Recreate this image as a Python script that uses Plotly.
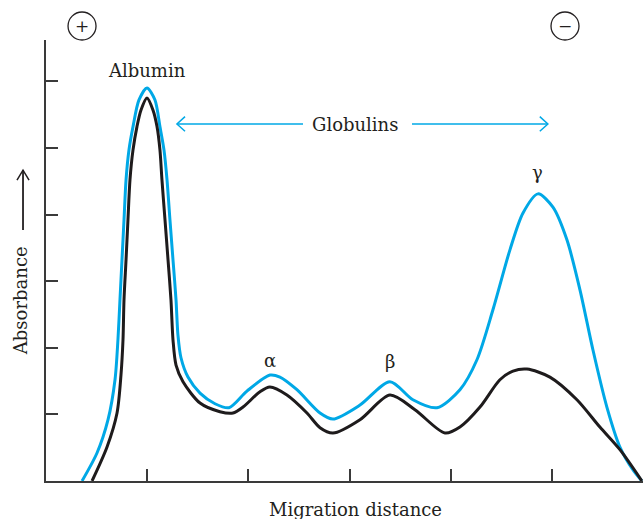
import plotly.graph_objects as go

# Serum protein electrophoresis densitometry trace
# x = migration distance (tick units), y = absorbance (tick units)
blue_x = [0.356, 0.504, 0.613, 0.682, 0.711, 0.731, 0.751, 0.771, 0.791, 0.820, 0.860, 0.919,
          0.998, 1.077, 1.126, 1.166, 1.196, 1.225, 1.255, 1.285, 1.304, 1.334, 1.403, 1.522,
          1.670, 1.808, 1.986, 2.213, 2.312, 2.480, 2.708, 2.836, 3.103, 3.399, 3.626, 3.864,
          4.091, 4.259, 4.417, 4.585, 4.713, 4.862, 5.010, 5.148, 5.277, 5.405, 5.543, 5.672,
          5.800, 5.889]
blue_y = [0.00, 0.42, 0.92, 1.52, 2.12, 2.72, 3.32, 3.92, 4.52, 4.97, 5.32, 5.72,
          5.90, 5.72, 5.32, 4.97, 4.52, 3.92, 3.32, 2.72, 2.19, 1.85, 1.56, 1.32,
          1.16, 1.10, 1.35, 1.59, 1.56, 1.37, 1.02, 0.93, 1.14, 1.49, 1.22, 1.10,
          1.37, 1.82, 2.57, 3.47, 4.02, 4.31, 4.11, 3.62, 2.87, 1.97, 1.11, 0.51,
          0.17, 0.00]

black_x = [0.455, 0.603, 0.702, 0.741, 0.761, 0.771, 0.791, 0.810, 0.830, 0.860, 0.899, 0.939,
           0.998, 1.057, 1.097, 1.126, 1.146, 1.176, 1.206, 1.235, 1.255, 1.285, 1.354, 1.522,
           1.719, 1.848, 1.947, 2.115, 2.213, 2.381, 2.579, 2.708, 2.836, 3.103, 3.399, 3.646,
           3.943, 4.091, 4.289, 4.486, 4.615, 4.753, 4.980, 5.247, 5.474, 5.672, 5.889]
black_y = [0.00, 0.51, 1.02, 1.59, 2.12, 2.72, 3.32, 3.92, 4.52, 4.97, 5.32, 5.57,
           5.75, 5.57, 5.32, 4.97, 4.52, 3.92, 3.32, 2.72, 2.12, 1.74, 1.49, 1.17,
           1.04, 1.02, 1.11, 1.34, 1.41, 1.29, 1.02, 0.80, 0.72, 0.92, 1.29, 1.07,
           0.72, 0.81, 1.11, 1.52, 1.65, 1.68, 1.56, 1.22, 0.81, 0.47, 0.00]

x_ticks = [1, 2, 3, 4, 5]
y_ticks = [1, 2, 3, 4, 5, 6]

peak_labels = ["Albumin", "α", "β", "γ"]
peak_x = [0.998, 2.213, 3.399, 4.862]
peak_y = [6.16, 1.81, 1.80, 4.63]

BLUE = "#00a8e6"
BLACK = "#1e1b1c"
AX = "#3a3a3a"
TXT = "#231f20"
FONT = "DejaVu Serif"

fig = go.Figure()
fig.add_trace(go.Scatter(x=blue_x, y=blue_y, mode="lines",
                         line=dict(color=BLUE, width=3, shape="spline", smoothing=0.8),
                         cliponaxis=False, hoverinfo="skip"))
fig.add_trace(go.Scatter(x=black_x, y=black_y, mode="lines",
                         line=dict(color=BLACK, width=3, shape="spline", smoothing=0.8),
                         cliponaxis=False, hoverinfo="skip"))

annotations = []
for lab, px, py in zip(peak_labels, peak_x, peak_y):
    annotations.append(dict(x=px, y=py, xref="x", yref="y", text=lab, showarrow=False,
                            font=dict(family=FONT, size=18, color=TXT)))

annotations.append(dict(x=3.05, y=5.35, xref="x", yref="y", text="Globulins", showarrow=False,
                        font=dict(family=FONT, size=18, color=TXT)))
annotations.append(dict(x=0.519, y=-0.0635, xref="paper", yref="paper", text="Migration distance",
                        xanchor="center", yanchor="middle", showarrow=False,
                        font=dict(family=FONT, size=18, color=TXT)))
annotations.append(dict(x=-0.0436, y=0.41, xref="paper", yref="paper", text="Absorbance",
                        xanchor="center", yanchor="middle", textangle=-90, showarrow=False,
                        font=dict(family=FONT, size=18, color=TXT)))
annotations.append(dict(x=0.0603, y=1.0317, xref="paper", yref="paper", text="+",
                        xanchor="center", yanchor="middle", showarrow=False,
                        font=dict(family=FONT, size=17, color=TXT)))
annotations.append(dict(x=0.8693, y=1.0317, xref="paper", yref="paper", text="−",
                        xanchor="center", yanchor="middle", showarrow=False,
                        font=dict(family=FONT, size=17, color=TXT)))

shapes = []
# Globulins arrows (data coords)
shapes.append(dict(type="line", xref="x", yref="y", x0=1.294, y0=5.36, x1=2.54, y1=5.36,
                   line=dict(color=BLUE, width=1.5)))
shapes.append(dict(type="path", xref="x", yref="y",
                   path="M 1.374 5.47 L 1.294 5.36 L 1.374 5.25",
                   line=dict(color=BLUE, width=1.5)))
shapes.append(dict(type="line", xref="x", yref="y", x0=3.617, y0=5.36, x1=4.96, y1=5.36,
                   line=dict(color=BLUE, width=1.5)))
shapes.append(dict(type="path", xref="x", yref="y",
                   path="M 4.88 5.47 L 4.96 5.36 L 4.88 5.25",
                   line=dict(color=BLUE, width=1.5)))
# circled electrode signs
shapes.append(dict(type="circle", xref="paper", yref="paper", x0=0.0369, x1=0.0838,
                   y0=1.0, y1=1.0635, line=dict(color=TXT, width=1.3)))
shapes.append(dict(type="circle", xref="paper", yref="paper", x0=0.8459, x1=0.8928,
                   y0=1.0, y1=1.0635, line=dict(color=TXT, width=1.3)))
# absorbance arrow
shapes.append(dict(type="line", xref="paper", yref="paper", x0=-0.0385, x1=-0.0385,
                   y0=0.569, y1=0.705, line=dict(color=TXT, width=1.8)))
shapes.append(dict(type="path", xref="paper", yref="paper",
                   path="M -0.0486 0.682 L -0.0385 0.705 L -0.0284 0.682",
                   line=dict(color=TXT, width=1.5)))

axis_common = dict(showline=True, linecolor=AX, linewidth=1.5, ticks="inside", ticklen=12,
                   tickwidth=1.5, tickcolor=AX, showticklabels=False, showgrid=False,
                   zeroline=False, fixedrange=True)

fig.update_layout(
    width=643, height=519,
    margin=dict(l=46, r=0, t=40, b=38),
    paper_bgcolor="white", plot_bgcolor="white",
    showlegend=False,
    xaxis=dict(range=[0, 5.9], tickvals=x_ticks, **axis_common),
    yaxis=dict(range=[0, 6.62], tickvals=y_ticks, **axis_common),
    annotations=annotations,
    shapes=shapes,
)

fig.write_html("out.html", config={"displayModeBar": False},
               post_script="document.body.style.margin='0';document.body.style.overflow='hidden';")
